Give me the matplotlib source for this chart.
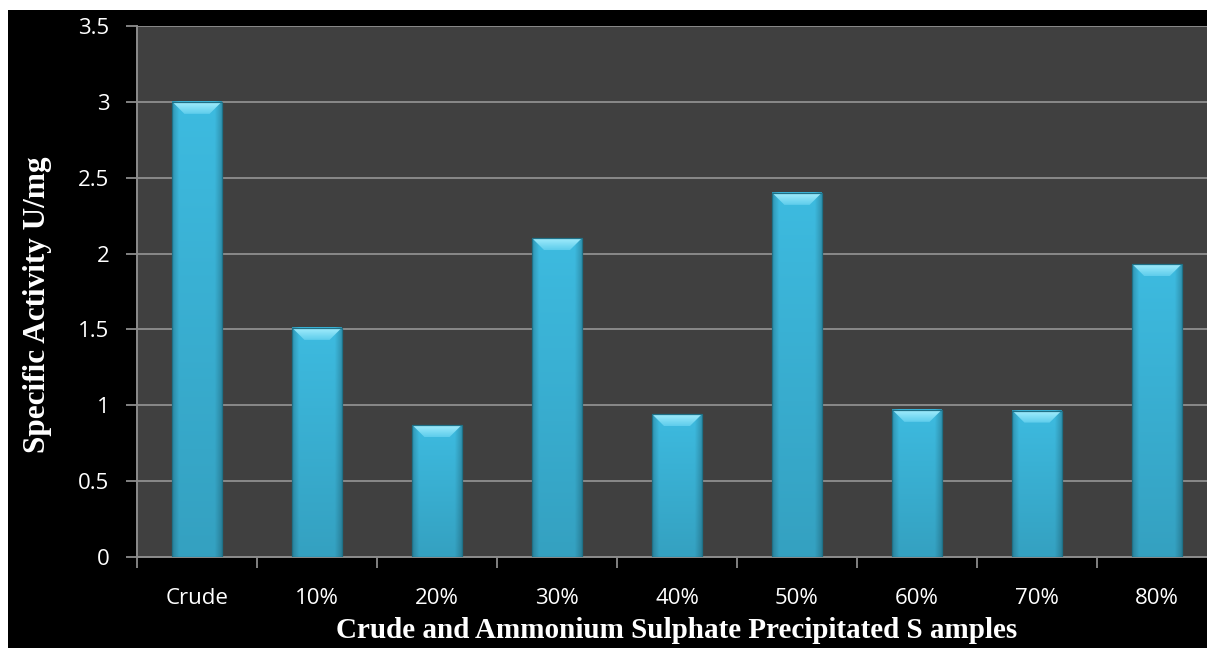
import matplotlib.pyplot as plt
import matplotlib.patches as mpatches
import numpy as np
from matplotlib.colors import to_rgb

# specific activity of crude extract and ammonium sulphate cuts
samples = ['Crude', '10%', '20%', '30%', '40%', '50%', '60%', '70%', '80%']
activity = [3.0, 1.51, 0.87, 2.10, 0.94, 2.40, 0.97, 0.965, 1.93]
yticks = [0, 0.5, 1, 1.5, 2, 2.5, 3, 3.5]

W, H = 1207, 648
fig = plt.figure(figsize=(W / 100, H / 100), dpi=100, facecolor='white')
# black chart background, thin white border on top and left
fig.patches.append(mpatches.Rectangle((8 / W, 0), 1, 638 / H, transform=fig.transFigure,
                                      facecolor='black', edgecolor='none', zorder=-10))

# plot area runs a little past the right edge of the figure
ax = fig.add_axes([137 / W, 91 / H, 1080 / W, 531 / H])
ax.set_facecolor('#404040')

x = np.arange(len(samples))
bw = 0.41
bars = ax.bar(x, activity, width=bw, color='#3bb6da', edgecolor='none', zorder=3)

# shading for the bevelled bars
base = np.array(to_rgb('#3dbbe0'))
nx, ny = 80, 200
u = np.linspace(0, 1, nx)
edge = np.clip(np.minimum(u, 1 - u) / 0.14, 0, 1)
fx = 0.80 + 0.20 * edge
v = np.linspace(0, 1, ny)
fy = 1.0 - 0.14 * v
body = np.clip(base[None, None, :] * fx[None, :, None] * fy[:, None, None], 0, 1)

top_c = np.array(to_rgb('#a0ecfc'))
bot_c = np.array(to_rgb('#5fcdec'))
tv = np.linspace(0, 1, 20)[:, None, None]
bevel_img = np.repeat(top_c * (1 - tv) + bot_c * tv, 4, axis=1)

px_x = 1080 / 9.0
px_y = 531 / 3.5
dx = 12 / px_x
dy = 12 / px_y

for b in bars:
    x0, w, h = b.get_x(), b.get_width(), b.get_height()
    ax.imshow(body, extent=(x0, x0 + w, 0, h), aspect='auto', origin='upper',
              interpolation='bilinear', zorder=3.2)
    poly = mpatches.Polygon([(x0, h), (x0 + w, h), (x0 + w - dx, h - dy), (x0 + dx, h - dy)],
                            closed=True, facecolor='none', edgecolor='none', zorder=3.4)
    ax.add_patch(poly)
    im = ax.imshow(bevel_img, extent=(x0, x0 + w, h - dy, h), aspect='auto', origin='upper',
                   interpolation='bilinear', zorder=3.4)
    im.set_clip_path(poly)

ax.bar(x, activity, width=bw, fill=False, edgecolor='#1f7086', linewidth=0.9, zorder=3.6)

ax.set_xlim(-0.5, 8.5)
ax.set_ylim(0, 3.5)

ax.set_yticks(yticks)
ax.set_yticklabels(['{:g}'.format(t) for t in yticks])
ax.set_xticks(x)
ax.set_xticklabels(samples)
ax.set_xticks(np.arange(-0.5, 9, 1), minor=True)

for t in ax.get_xticklabels() + ax.get_yticklabels():
    t.set_fontfamily('Open Sans')
    t.set_fontsize(16)
    t.set_color('white')

ax.tick_params(axis='x', which='major', length=0, pad=22)
ax.tick_params(axis='x', which='minor', length=8, width=1.3, color='#8c8c8c', direction='out')
ax.tick_params(axis='y', length=8, width=1.3, color='#8c8c8c', direction='out', pad=12)

ax.yaxis.grid(True, color='#8a8a8a', linewidth=1.4)
ax.set_axisbelow(True)
for s in ['top', 'right']:
    ax.spines[s].set_visible(False)
for s in ['left', 'bottom']:
    ax.spines[s].set_color('#8c8c8c')
    ax.spines[s].set_linewidth(1.4)

fig.text(677 / W, (H - 630) / H, 'Crude and Ammonium Sulphate Precipitated S amples',
         ha='center', va='center', family='Liberation Serif', weight='bold',
         size=21, color='white')
fig.text(38 / W, (H - 305) / H, 'Specific Activity U/mg', rotation=90,
         ha='center', va='center', family='Liberation Serif', weight='bold',
         size=22.5, color='white')

fig.savefig('out.png', dpi=100, facecolor=fig.get_facecolor())
